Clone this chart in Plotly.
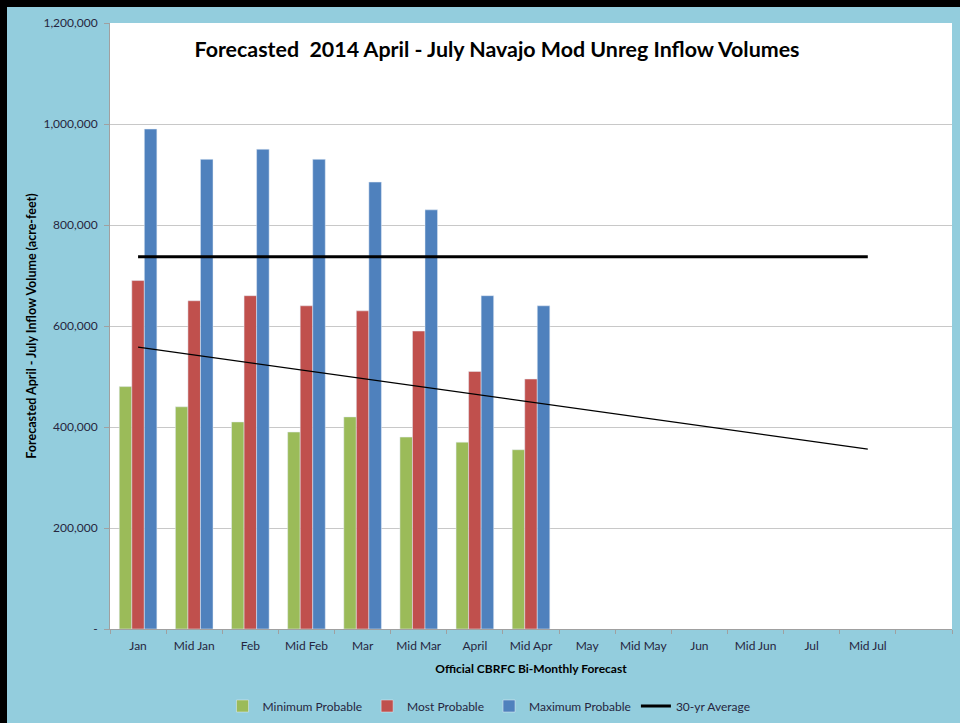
import plotly.graph_objects as go

categories = ["Jan", "Mid Jan", "Feb", "Mid Feb", "Mar", "Mid Mar", "April", "Mid Apr",
              "May", "Mid May", "Jun", "Mid Jun", "Jul", "Mid Jul", " "]
forecast_cats = categories[:8]
minimum_probable = [480000, 440000, 410000, 390000, 420000, 380000, 370000, 355000]
most_probable = [690000, 650000, 660000, 640000, 630000, 590000, 510000, 495000]
maximum_probable = [990000, 930000, 950000, 930000, 885000, 830000, 660000, 640000]
avg_cats = categories[:14]
avg_30yr = [737000] * 14
trend_cats = ["Jan", "Mid Jul"]
trend_vals = [558000, 356000]
y_tickvals = [0, 200000, 400000, 600000, 800000, 1000000, 1200000]
y_ticktext = ["-", "200,000", "400,000", "600,000", "800,000", "1,000,000", "1,200,000"]

W, H = 960, 723
ML, MR, MT, MB = 110, 8, 23, 94
PW, PH = W - ML - MR, H - MT - MB
BG = "#93CDDD"
FONT = "Lato"
TXT = "#262640"

fig = go.Figure()
fig.add_trace(go.Bar(x=forecast_cats, y=minimum_probable, name="Minimum Probable", marker_color="#9BBB59"))
fig.add_trace(go.Bar(x=forecast_cats, y=most_probable, name="Most Probable", marker_color="#C0504D"))
fig.add_trace(go.Bar(x=forecast_cats, y=maximum_probable, name="Maximum Probable", marker_color="#4F81BD"))
fig.add_trace(go.Scatter(x=avg_cats, y=avg_30yr, name="30-yr Average", mode="lines",
                         line=dict(color="black", width=3)))
fig.add_trace(go.Scatter(x=trend_cats, y=trend_vals, mode="lines", showlegend=False,
                         line=dict(color="black", width=1.3)))

def px_to_paper_x(px):
    return (px - ML) / PW

def px_to_paper_y(py):
    return (H - MB - py) / PH

shapes = [
    dict(type="rect", xref="paper", yref="paper", x0=px_to_paper_x(0), x1=px_to_paper_x(7),
         y0=px_to_paper_y(H), y1=px_to_paper_y(0), fillcolor="black", line_width=0, layer="above"),
    dict(type="rect", xref="paper", yref="paper", x0=px_to_paper_x(0), x1=px_to_paper_x(W),
         y0=px_to_paper_y(7), y1=px_to_paper_y(0), fillcolor="black", line_width=0, layer="above"),
]

fig.update_layout(
    width=W, height=H,
    margin=dict(l=ML, r=MR, t=MT, b=MB, autoexpand=False),
    paper_bgcolor=BG, plot_bgcolor="white",
    barmode="group", bargap=0.33, bargroupgap=0,
    font=dict(family=FONT, color=TXT, size=12),
    title=dict(text="<b>Forecasted  2014 April - July Navajo Mod Unreg Inflow Volumes</b>",
               x=px_to_paper_x(497), xref="paper", xanchor="center",
               y=px_to_paper_y(50), yref="paper", yanchor="middle",
               font=dict(family=FONT, size=21.4, color="black")),
    xaxis=dict(categoryorder="array", categoryarray=categories, range=[-0.5, 14.5],
               tickson="boundaries", ticks="outside", ticklen=4, tickcolor="#A0A0A0",
               showline=True, linecolor="#A0A0A0", showgrid=False, tickangle=0,
               automargin=False, ticklabelstandoff=6,
               tickfont=dict(size=12, color=TXT),
               title=dict(text="<b>Official CBRFC Bi-Monthly Forecast</b>", standoff=12,
                          font=dict(size=12, color="black"))),
    yaxis=dict(range=[0, 1200000], tickvals=y_tickvals, ticktext=y_ticktext,
               ticks="outside", ticklen=5, tickcolor="#A0A0A0", automargin=False,
               ticklabelstandoff=4,
               showline=True, linecolor="#A0A0A0", gridcolor="#C8C8C8", gridwidth=1,
               zeroline=False, tickfont=dict(size=12, color=TXT),
               title=dict(text="<b>Forecasted April - July Inflow Volume (acre-feet)</b>",
                          standoff=4, font=dict(size=12.5, color="black"))),
    legend=dict(orientation="h", x=px_to_paper_x(489), xanchor="center",
                y=px_to_paper_y(706), yanchor="middle", font=dict(size=12, color=TXT),
                bgcolor="rgba(0,0,0,0)", itemwidth=30),
    shapes=shapes,
)

post = (
    "document.body.style.margin='0';document.body.style.overflow='hidden';"
    "var f=function(css){var d=document.createElement('div');"
    "d.style.cssText='position:fixed;background:#000;z-index:1000;pointer-events:none;'+css;"
    "document.body.appendChild(d);};"
    "f('left:0;top:0;width:7px;height:100%;');"
    "f('left:0;top:0;width:100%;height:7px;');"
)

fig.write_html("out.html", config={"displayModeBar": False}, post_script=post)
